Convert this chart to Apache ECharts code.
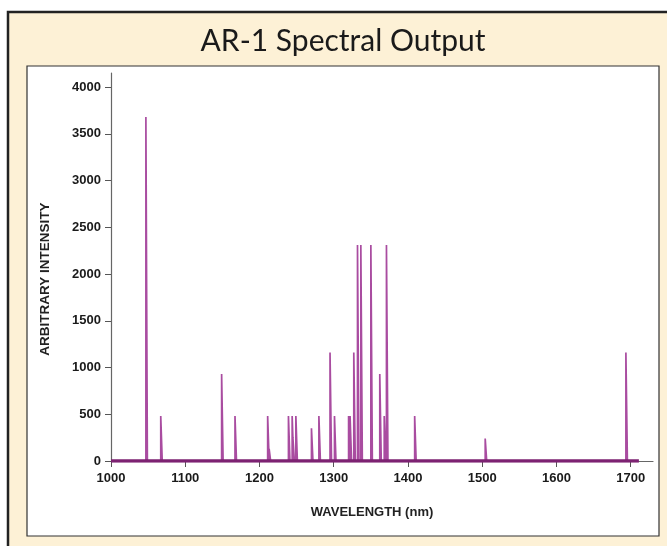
<!DOCTYPE html>
<html><head><meta charset="utf-8">
<script src="https://cdn.jsdelivr.net/npm/echarts@6/dist/echarts.min.js"></script>
<style>html,body{margin:0;padding:0;background:#fff}#c{width:667px;height:546px}</style>
</head><body><div id="c"></div>
<script>
// Peak wavelengths (nm) and intensities
const wavelengths = [1048, 1068, 1150, 1168, 1212, 1214, 1240, 1245, 1246, 1250, 1271, 1281, 1296, 1302, 1321, 1323, 1328, 1333, 1337.5, 1351, 1363, 1369, 1372, 1410, 1505, 1694.5];
const intensities = [3680, 480, 930, 480, 480, 130, 480, 480, 250, 480, 350, 480, 1160, 480, 480, 480, 1160, 2310, 2310, 2310, 930, 480, 2310, 480, 240, 1160];
const xTicks = [1000, 1100, 1200, 1300, 1400, 1500, 1600, 1700];
const yTicks = [0, 500, 1000, 1500, 2000, 2500, 3000, 3500, 4000];
const baselineRange = [1000, 1711];

const half = 1.0;
const peakLine = [];
for (let i = 0; i < wavelengths.length; i++) {
  const w = wavelengths[i], v = intensities[i];
  peakLine.push([w - half, 0], [w - half, v], [w + half, v], [w + half, 0], null);
}
const base = [[baselineRange[0], 0], [baselineRange[1], 0]];

const chart = echarts.init(document.getElementById('c'));
const lblStyle = {fontFamily: 'Liberation Sans, Arial, sans-serif', fontWeight: 'bold', fontSize: 13, color: '#1a1a1a', formatter: v => String(v)};
chart.setOption({
  animation: false,
  graphic: [
    {type: 'rect', shape: {x: 8, y: 12, width: 680, height: 560}, style: {fill: '#fdf1d6', stroke: '#222', lineWidth: 2.5}, z: -10},
    {type: 'rect', shape: {x: 27, y: 66, width: 632, height: 470}, style: {fill: '#fff', stroke: '#333', lineWidth: 1.2}, z: -9},
    {type: 'text', x: 343, y: 41, style: {text: 'AR-1 Spectral Output', font: '30px Lato', fill: '#1a1a1a', textAlign: 'center', textVerticalAlign: 'middle', letterSpacing: 1}},
    {type: 'text', x: 372, y: 512, style: {text: 'WAVELENGTH (nm)', font: 'bold 13px "Liberation Sans", Arial', fill: '#222', textAlign: 'center', textVerticalAlign: 'middle'}},
    {type: 'text', x: 45, y: 279, rotation: Math.PI / 2, style: {text: 'ARBITRARY INTENSITY', font: 'bold 13.5px "Liberation Sans", Arial', fill: '#222', textAlign: 'center', textVerticalAlign: 'middle'}}
  ],
  grid: {left: 111, top: 73, right: 14, bottom: 85, containLabel: false},
  xAxis: {
    type: 'value', min: 1000, max: 1730,
    axisLine: {lineStyle: {color: '#666', width: 1.2}},
    axisTick: {customValues: xTicks, length: 6, lineStyle: {color: '#555'}},
    axisLabel: Object.assign({customValues: xTicks, margin: 11}, lblStyle),
    splitLine: {show: false}
  },
  yAxis: {
    type: 'value', min: 0, max: 4150,
    axisLine: {show: true, lineStyle: {color: '#666', width: 1.2}},
    axisTick: {show: true, customValues: yTicks, length: 6, lineStyle: {color: '#555'}},
    axisLabel: Object.assign({customValues: yTicks, margin: 10}, lblStyle),
    splitLine: {show: false}
  },
  series: [
    {type: 'line', data: peakLine, showSymbol: false, connectNulls: false, lineStyle: {color: '#a94ca0', width: 1.7}, z: 2},
    {type: 'line', data: base, showSymbol: false, lineStyle: {color: '#7d2272', width: 3.5}, z: 3}
  ]
});
</script></body></html>
